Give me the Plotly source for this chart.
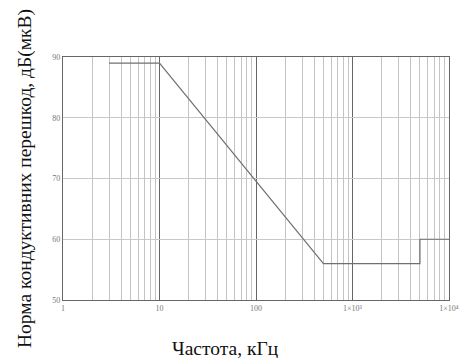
import plotly.graph_objects as go

freq_khz = [3, 10, 500, 5000, 5000, 10000]
level_db = [89, 89, 56, 56, 60, 60]

x_tickvals = [1, 10, 100, 1000, 10000]
x_ticktext = ["1", "10", "100", "1×10³", "1×10⁴"]
y_tickvals = [50, 60, 70, 80, 90]

fig = go.Figure()
fig.add_trace(go.Scatter(x=freq_khz, y=level_db, mode="lines",
                         line=dict(color="#707070", width=1.2),
                         showlegend=False, hoverinfo="skip"))

fig.update_layout(
    width=462, height=358,
    margin=dict(l=63, r=13, t=57, b=58),
    paper_bgcolor="white", plot_bgcolor="white",
    font=dict(family="Liberation Serif", color="#222"),
    xaxis=dict(
        type="log", range=[0, 4], automargin=False,
        tickvals=x_tickvals, ticktext=x_ticktext,
        tickfont=dict(size=8, color="#777"),
        showgrid=True, gridcolor="#666", gridwidth=1.3,
        showline=True, linecolor="#666", linewidth=1.3, mirror=True,
        ticks="", ticklen=0,
        minor=dict(dtick="D1", showgrid=True, gridcolor="#c4c4c4", gridwidth=1, ticks=""),
        zeroline=False,
    ),
    yaxis=dict(
        range=[50, 90], tickvals=y_tickvals, automargin=False,
        tickfont=dict(size=8, color="#777"),
        showgrid=True, gridcolor="#c8c8c8", gridwidth=1,
        showline=True, linecolor="#666", linewidth=1.3, mirror=True,
        ticks="", ticklen=0,
        title=dict(text="Норма кондуктивних перешкод, дБ(мкВ)", font=dict(size=19.5, color="#111")),
        zeroline=False,
    ),
    annotations=[dict(
        text="Частота, кГц", xref="paper", yref="paper",
        x=0.42, y=-0.2, xanchor="center", yanchor="middle",
        showarrow=False, font=dict(size=19.5, color="#111"),
    )],
)

fig.write_html("out.html")
